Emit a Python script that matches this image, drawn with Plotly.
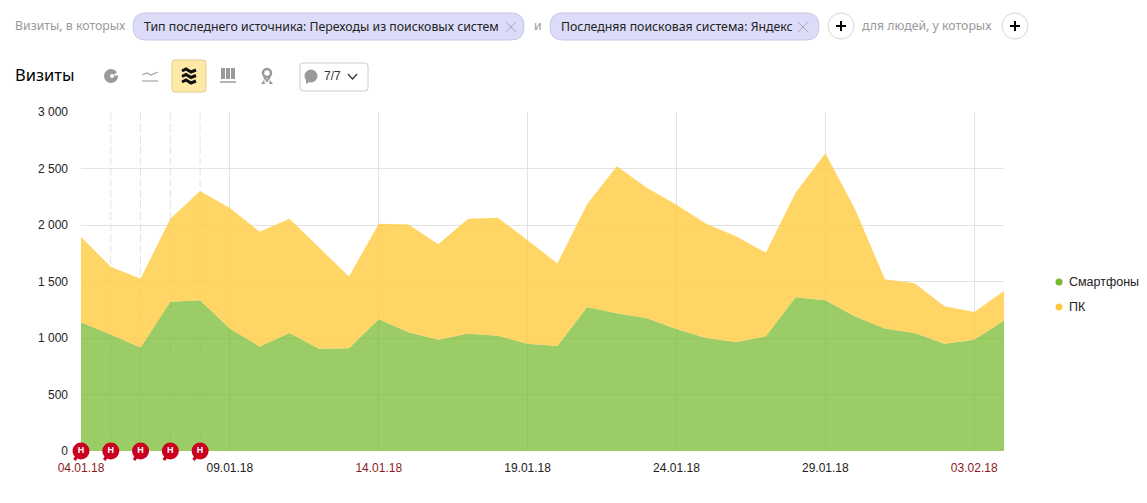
import pandas as pd
import plotly.graph_objects as go

dates = pd.date_range("2018-01-04", "2018-02-04").strftime("%Y-%m-%d").tolist()
smartphones = [1140, 1030, 915, 1320, 1335, 1085, 925, 1045, 905, 910, 1165, 1050, 985, 1040, 1020, 950,
               930, 1275, 1220, 1175, 1080, 1000, 965, 1015, 1360, 1335, 1190, 1085, 1045, 950, 985, 1155]
pc = [755, 600, 610, 735, 965, 1065, 1015, 1010, 895, 635, 845, 955, 845, 1015, 1045, 915,
      730, 910, 1300, 1155, 1100, 1010, 935, 740, 925, 1300, 950, 435, 440, 330, 245, 260]
note_dates = ["2018-01-04", "2018-01-05", "2018-01-06", "2018-01-07", "2018-01-08"]
x_ticks = ["2018-01-04", "2018-01-09", "2018-01-14", "2018-01-19", "2018-01-24", "2018-01-29", "2018-02-03"]
x_labels = ["04.01.18", "09.01.18", "14.01.18", "19.01.18", "24.01.18", "29.01.18", "03.02.18"]
red_labels = ["04.01.18", "14.01.18", "03.02.18"]
y_ticks = [0, 500, 1000, 1500, 2000, 2500, 3000]
y_labels = ["0", "500", "1 000", "1 500", "2 000", "2 500", "3 000"]

PL, PR, PT, PB = 81, 1004, 112, 451
FONT = "Liberation Sans"
UI_FONT = "Noto Sans"
NOTE_RED = "#c9001f"


def px(x):
    return (x - PL) / (PR - PL)


def py(y):
    return (PB - y) / (PB - PT)


def round_rect(x0, y0, x1, y1, r):
    return (f"M {px(x0 + r)} {py(y0)} L {px(x1 - r)} {py(y0)} Q {px(x1)} {py(y0)} {px(x1)} {py(y0 + r)} "
            f"L {px(x1)} {py(y1 - r)} Q {px(x1)} {py(y1)} {px(x1 - r)} {py(y1)} "
            f"L {px(x0 + r)} {py(y1)} Q {px(x0)} {py(y1)} {px(x0)} {py(y1 - r)} "
            f"L {px(x0)} {py(y0 + r)} Q {px(x0)} {py(y0)} {px(x0 + r)} {py(y0)} Z")


def poly(points, close=False):
    d = "M " + " L ".join(f"{px(x)} {py(y)}" for x, y in points)
    return d + " Z" if close else d


shapes = []
annotations = []


def add_path(d, fill=None, color=None, width=1):
    shapes.append(dict(type="path", xref="paper", yref="paper", path=d,
                       fillcolor=fill or "rgba(0,0,0,0)",
                       line=dict(color=color or "rgba(0,0,0,0)", width=width if color else 0)))


def add_circle(cx, cy, r, fill=None, color=None, width=1):
    shapes.append(dict(type="circle", xref="paper", yref="paper",
                       x0=px(cx - r), x1=px(cx + r), y0=py(cy + r), y1=py(cy - r),
                       fillcolor=fill or "rgba(0,0,0,0)",
                       line=dict(color=color or "rgba(0,0,0,0)", width=width if color else 0)))


def add_text(x, y, text, size=12.3, color="#222222", anchor="left", family=UI_FONT):
    annotations.append(dict(xref="paper", yref="paper", x=px(x), y=py(y), text=text, showarrow=False,
                            xanchor=anchor, yanchor="middle", align=anchor,
                            font=dict(family=family, size=size, color=color), borderpad=0, borderwidth=0))


def add_cross(cx, cy, r=5):
    add_path(poly([(cx - r, cy - r), (cx + r, cy + r)]), color="#a9a9bd", width=1)
    add_path(poly([(cx - r, cy + r), (cx + r, cy - r)]), color="#a9a9bd", width=1)


def add_plus(cx, cy):
    add_circle(cx, cy, 13, fill="#ffffff", color="#d6d6d6")
    add_path(poly([(cx - 5, cy), (cx + 5, cy)]), color="#000000", width=2)
    add_path(poly([(cx, cy - 5), (cx, cy + 5)]), color="#000000", width=2)


# filter row
add_text(15, 26, "Визиты, в которых", color="#999999")
add_path(round_rect(133, 13, 524, 40, 13), fill="#dcdcf8", color="#c6c6e6")
add_text(144, 26.5, "Тип последнего источника: Переходы из поисковых систем")
add_cross(511, 27)
add_text(534, 26, "и", color="#999999")
add_path(round_rect(550, 13, 819, 40, 13), fill="#dcdcf8", color="#c6c6e6")
add_text(561, 26.5, "Последняя поисковая система: Яндекс")
add_cross(803, 27)
add_plus(841, 26)
add_text(862, 26, "для людей, у которых", color="#999999")
add_plus(1015, 26)

# toolbar
add_text(15, 75, "Визиты", size=16.5, color="#000000")
add_circle(111, 76, 7, fill="#9a9a9a")
add_circle(112, 76, 2, fill="#ffffff")
add_path(poly([(112, 76), (119, 71), (119, 75)], close=True), fill="#ffffff")
add_path(poly([(142, 75), (147, 73), (151, 75), (158, 72)]), color="#a5a5a5", width=1.2)
add_path(poly([(142, 81), (158, 81)]), color="#a5a5a5", width=1.2)
add_path(round_rect(172, 60, 206, 92, 3), fill="#ffe9a6", color="#e2cd8e")
for level in (71, 76.5, 82):
    add_path(poly([(182, level), (186, level - 2), (191, level + 1), (196, level - 1)]),
             color="#111111", width=3)
for bx in (221, 226, 231):
    add_path(poly([(bx, 68), (bx + 4, 68), (bx + 4, 79), (bx, 79)], close=True), fill="#9a9a9a")
add_path(poly([(220, 82), (236, 82)]), color="#9a9a9a", width=1.5)
add_circle(267, 73, 4, color="#9a9a9a", width=2.5)
add_path(poly([(264, 77), (267, 81), (270, 77)]), color="#9a9a9a", width=2)
add_path(poly([(261, 84), (264, 80), (265, 84)], close=True), fill="#9a9a9a")
add_path(poly([(269, 84), (270, 80), (273, 84)], close=True), fill="#9a9a9a")
add_path(round_rect(300, 63, 368, 91, 3), fill="#ffffff", color="#cccccc")
add_circle(311, 76, 6.5, fill="#9a9a9a")
add_path(poly([(306, 84), (306, 78), (311, 81)], close=True), fill="#9a9a9a")
add_text(324, 76, "7/7", size=12, color="#333333", family=FONT)
add_path(poly([(348, 74), (352.5, 79), (357, 74)]), color="#333333", width=1.2)

# legend
add_circle(1059, 282, 3.5, fill="#76b82a")
add_text(1069, 282, "Смартфоны", size=12.5, family=FONT)
add_circle(1059, 307, 3.5, fill="#ffc73b")
add_text(1069, 307, "ПК", size=12.5, family=FONT)

# dashed lines for the notes and the bubble tails
for d in note_dates:
    if d != note_dates[0]:
        shapes.append(dict(type="line", xref="x", yref="paper", x0=d, x1=d, y0=0, y1=1, layer="below",
                           line=dict(color="#e4e4e4", width=1, dash="8px,3px")))
    annotations.append(dict(x=d, y=0, xref="x", yref="y", text=" ", font=dict(size=1), showarrow=True,
                            arrowhead=0, arrowwidth=3, arrowcolor=NOTE_RED, ax=-8, ay=11, standoff=4))

fig = go.Figure()
fig.add_trace(go.Scatter(x=dates, y=smartphones, name="Смартфоны", stackgroup="one", mode="none",
                         fillcolor="rgba(118,184,42,0.72)", hoverinfo="x+y+name"))
fig.add_trace(go.Scatter(x=dates, y=pc, name="ПК", stackgroup="one", mode="none",
                         fillcolor="rgba(255,204,64,0.8)", hoverinfo="x+y+name"))
fig.add_trace(go.Scatter(x=note_dates, y=[0] * len(note_dates), mode="markers+text", cliponaxis=False,
                         marker=dict(color=NOTE_RED, size=17), text=["Н"] * len(note_dates),
                         textposition="middle center",
                         textfont=dict(family=FONT, size=9, color="#ffffff", weight="bold"),
                         hoverinfo="skip"))

tick_text = [f'<span style="color:#8b1a1a">{t}</span>' if t in red_labels else t for t in x_labels]

fig.update_xaxes(type="date", range=[dates[0], dates[-1]], tickmode="array", tickvals=x_ticks, ticktext=tick_text,
                 showgrid=True, gridcolor="#e3e3e3", gridwidth=1, zeroline=False, showline=False, ticks="",
                 ticklabelstandoff=8, tickfont=dict(family=FONT, size=12, color="#222222"))
fig.update_yaxes(range=[0, 3000], tickmode="array", tickvals=y_ticks, ticktext=y_labels,
                 showgrid=True, gridcolor="#e3e3e3", gridwidth=1, zeroline=False, showline=False, ticks="",
                 ticklabelstandoff=12, tickfont=dict(family=FONT, size=12, color="#222222"))
fig.update_layout(width=1147, height=503, autosize=False, showlegend=False,
                  margin=dict(l=PL, r=1147 - PR, t=PT, b=503 - PB),
                  paper_bgcolor="#ffffff", plot_bgcolor="#ffffff",
                  shapes=shapes, annotations=annotations)

fig.write_html("out.html", config={"displayModeBar": False},
               post_script="document.body.style.margin='0';document.body.style.overflow='hidden';")
